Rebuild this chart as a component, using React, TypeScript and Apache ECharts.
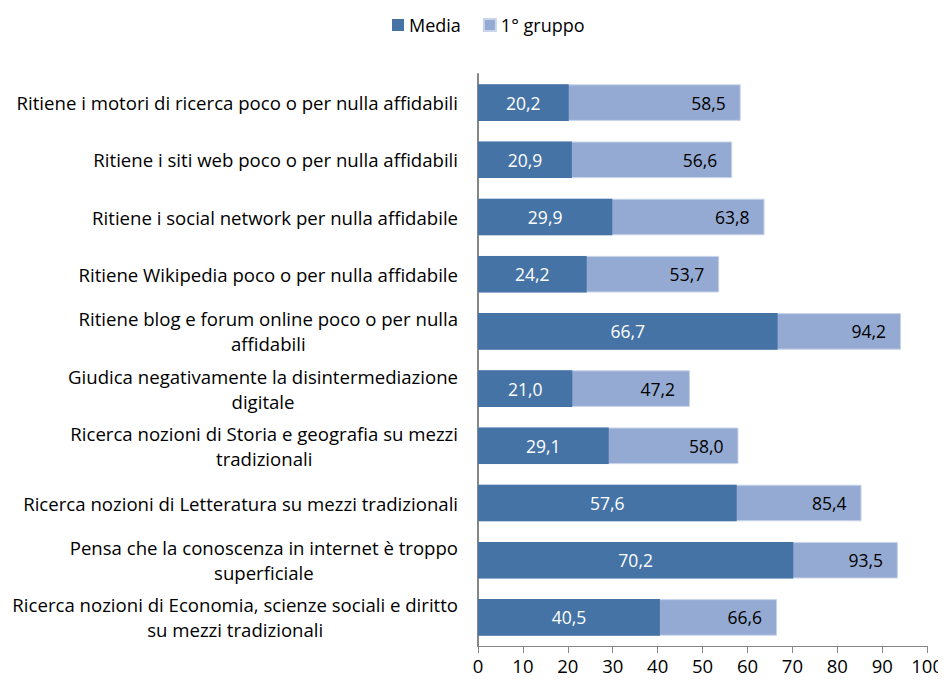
import React, { useEffect, useRef } from "react";
import * as echarts from "echarts";

const categories = [
  "Ritiene i motori di ricerca poco o per nulla affidabili",
  "Ritiene i siti web poco o per nulla affidabili",
  "Ritiene i social network per nulla affidabile",
  "Ritiene Wikipedia poco o per nulla affidabile",
  "Ritiene blog e forum online poco o per nulla\naffidabili",
  "Giudica negativamente la disintermediazione\ndigitale",
  "Ricerca nozioni di Storia e geografia su mezzi\ntradizionali",
  "Ricerca nozioni di Letteratura su mezzi tradizionali",
  "Pensa che la conoscenza in internet è troppo\nsuperficiale",
  "Ricerca nozioni di Economia, scienze sociali e diritto\nsu mezzi tradizionali",
];
const media = [20.2, 20.9, 29.9, 24.2, 66.7, 21.0, 29.1, 57.6, 70.2, 40.5];
const gruppo1 = [58.5, 56.6, 63.8, 53.7, 94.2, 47.2, 58.0, 85.4, 93.5, 66.6];
const seriesNames = ["Media", "1° gruppo"];

const FONT = "Open Sans";
const fmt = (v: number) => v.toFixed(1).replace(".", ",");

export default function App() {
  const ref = useRef<HTMLDivElement>(null);
  useEffect(() => {
    const chart = echarts.init(ref.current!, null, { renderer: "svg" });
    chart.setOption({
      animation: false,
      textStyle: { fontFamily: FONT },
      legend: {
        data: seriesNames,
        top: 11,
        left: 387,
        itemWidth: 12,
        itemHeight: 12,
        itemGap: 22,
        icon: "rect",
        textStyle: { fontFamily: FONT, fontSize: 18, color: "#000" },
      },
      grid: { left: 478, right: 17, top: 74, bottom: 35, containLabel: false },
      xAxis: {
        type: "value",
        min: 0,
        max: 100,
        interval: 10,
        splitLine: { show: false },
        axisLine: { show: true, lineStyle: { color: "#868686", width: 1 } },
        axisTick: { show: true, length: 7, lineStyle: { color: "#868686" } },
        axisLabel: { fontFamily: FONT, fontSize: 18.5, color: "#000", margin: 10 },
      },
      yAxis: {
        type: "category",
        data: categories,
        inverse: true,
        axisLine: { show: true, lineStyle: { color: "#868686", width: 2 } },
        axisTick: { show: false },
        axisLabel: {
          margin: 20,
          align: "right",
          formatter: (v: string) => v.split("\n").map((l) => `{c|${l}}`).join("\n"),
          rich: {
            c: { align: "center", fontFamily: FONT, fontSize: 18.6, color: "#000", lineHeight: 25 },
          },
        },
      },
      series: [
        {
          name: seriesNames[1],
          type: "bar",
          data: gruppo1,
          barWidth: "64%",
          itemStyle: { color: "#95AAD2", borderColor: "#C9D4EA", borderWidth: 1 },
          label: {
            show: true,
            position: "insideRight",
            distance: 15,
            formatter: (p: any) => fmt(p.value),
            color: "#000",
            fontFamily: FONT,
            fontSize: 17.5,
          },
          z: 2,
        },
        {
          name: seriesNames[0],
          type: "bar",
          data: media,
          barWidth: "64%",
          barGap: "-100%",
          itemStyle: { color: "#4573A6" },
          label: {
            show: true,
            position: "inside",
            formatter: (p: any) => fmt(p.value),
            color: "#fff",
            fontFamily: FONT,
            fontSize: 17.5,
          },
          z: 3,
        },
      ],
    });
    return () => chart.dispose();
  }, []);
  return <div ref={ref} style={{ width: 946, height: 681, margin: -8 }} />;
}
